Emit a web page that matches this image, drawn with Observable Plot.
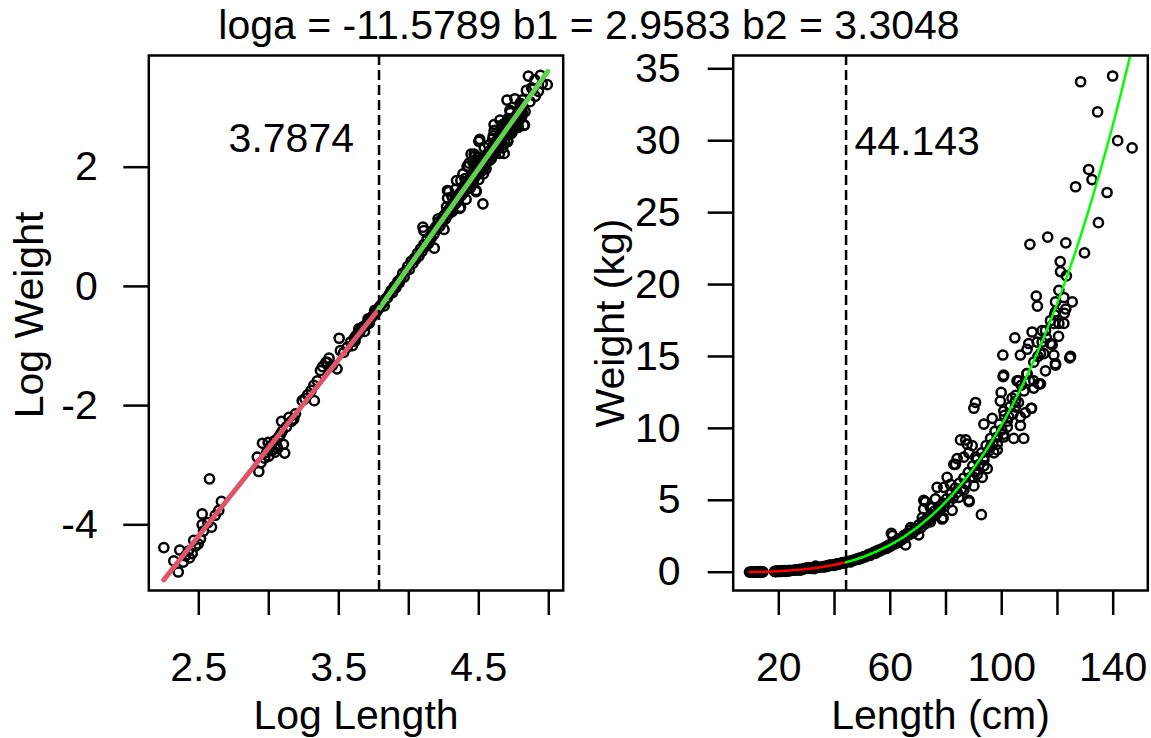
<!DOCTYPE html>
<html>
<head>
<meta charset="utf-8">
<script src="https://cdn.jsdelivr.net/npm/d3@7"></script>
<script src="https://cdn.jsdelivr.net/npm/@observablehq/plot@0.6"></script>
<style>
  html, body { margin: 0; padding: 0; background: #fff; }
  #wrap { position: relative; width: 1151px; height: 738px; overflow: hidden; background: #fff;
          font-family: "Liberation Sans", Arial, sans-serif; }
  #title { position: absolute; left: 0; top: 5px; width: 1178px; text-align: center;
           font-size: 41px; line-height: 41px; color: #000; white-space: nowrap; }
  #wrap svg { position: absolute; top: 0; }
  #wrap svg g[aria-label$="tick"], #wrap svg g[aria-label$="tick"] path { stroke-width: 2.5px; }
</style>
</head>
<body>
<div id="wrap">
  <div id="title"></div>
</div>
<script>
// ---------------- data (length in cm, weight in kg) ----------------
const titleText = "loga = -11.5789 b1 = 2.9583 b2 = 3.3048";
const breakLogLabel = "3.7874";
const breakLengthLabel = "44.143";
const breakLog = 3.7874;
const breakLength = 44.143;

const smallFish = [
  [9.49,0.0125],[10.19,0.0100],[10.52,0.0083],[10.63,0.0120],[10.9,0.0098],[11.08,0.0109],
  [11.3,0.0118],[11.4,0.0105],[11.62,0.0113],[11.75,0.0141],[11.9,0.0128],[12.13,0.0133],
  [12.33,0.0145],[12.48,0.0220],[12.48,0.0184],[12.6,0.0165],[13.0,0.0190],[13.15,0.0396],
  [13.34,0.0176],[13.7,0.0215],[14.05,0.0233],[14.32,0.0271]
];
const juvenileFish = [
  [18.5,0.057],[18.7,0.0448],[19.0,0.052],[19.2,0.072],[19.5,0.056],[19.8,0.062],[20.0,0.073],
  [20.1,0.058],[20.3,0.068],[20.6,0.064],[20.9,0.075],[21.0,0.062],[21.2,0.070],[21.4,0.066],
  [21.5,0.079],[21.8,0.083],[22.0,0.104],[22.1,0.088],[22.3,0.0707],[22.5,0.061],[22.8,0.095],
  [23.2,0.111],[23.6,0.104],[24.0,0.108],[24.3,0.118]
];
const midFish = [
  [25.5,0.147],[26.0,0.152],[26.5,0.162],[27.2,0.175],[27.7,0.190],[27.8,0.147],[28.4,0.205],
  [29.05,0.244],[29.5,0.26],[30.2,0.28],[30.5,0.280],[30.9,0.30],[31.6,0.265],[32.7,0.251],
  [33.2,0.419],[33.5,0.341],[34.3,0.33],[35.2,0.361],[36.0,0.392],[36.5,0.37],[37.0,0.42],
  [37.2,0.40],[37.5,0.44],[38.0,0.45],[38.2,0.49],[38.5,0.47],[39.0,0.50],[39.5,0.51],
  [39.8,0.47],[40.0,0.52],[40.5,0.53],[40.8,0.58],[41.0,0.56],[41.2,0.54],[41.5,0.58],
  [42.0,0.60],[42.5,0.62],[42.8,0.67],[43.0,0.64],[43.5,0.66],[44.0,0.69],[44.5,0.72]
];
const bandFish = [
  [45.2,0.75],[45.8,0.72],[46.3,0.81],[46.9,0.83],[47.5,0.88],[48.1,0.93],[48.6,0.90],[49.2,1.00],
  [49.8,0.98],[50.5,1.09],[51.0,1.06],[51.6,1.14],[52.3,1.25],[52.8,1.17],[53.5,1.30],[54.2,1.40],
  [54.8,1.33],[55.5,1.52],[56.2,1.47],[56.8,1.60],[57.4,1.58],[58.1,1.74],[58.7,1.66],[59.4,1.88],
  [60.0,1.80],[60.8,2.02],[61.5,1.95],[62.2,2.20],[62.8,2.05],[63.5,2.32],[64.1,2.25],[64.8,2.55],
  [65.4,2.40],[66.1,2.70],[66.8,2.62],[67.5,2.95],[68.2,2.75],[68.9,3.05],[69.6,2.98],[70.3,3.30],
  [71.0,3.10],[71.7,3.50],[72.4,3.35],[73.1,3.70],[73.8,3.60],[74.5,4.00],[75.2,3.85],[75.9,4.25],
  [76.6,4.05],[77.3,4.55],[78.0,4.35],[78.8,4.80],[79.5,4.60],[80.2,5.10],[81.0,4.85],[81.8,5.45],
  [82.5,5.15],[83.3,5.85],[84.0,5.55],[84.8,6.20],[85.6,5.80],[86.4,6.55],[87.2,6.15],[88.0,6.95],
  [88.8,6.60],[89.6,7.40],[90.4,7.00],[91.2,7.85],[92.0,7.50],[92.8,8.30],[93.6,8.00],[94.4,8.80],
  [95.2,8.40],[96.0,9.30],[96.8,8.90],[97.6,9.80],[98.4,9.40],[99.2,10.3],[100.0,9.90],[101.0,10.9],
  [102.0,10.5],[103.0,11.5],[104.0,11.0],[105.0,12.3],[106.0,11.8],[107.0,13.0],[108.0,12.6],
  [109.0,13.8],[110.0,13.3],[111.5,14.6],[113.0,15.0],[114.5,16.0],[116.0,16.3],[117.5,17.5],[119.0,17.9]
];
const scatterFish = [
  [128.3,34.1],[139.8,34.5],[134.4,32.0],[141.6,30.0],[146.8,29.5],[131.2,28.0],[132.4,27.3],
  [126.5,26.8],[137.8,26.4],[134.7,24.3],[110.1,22.8],[116.5,23.3],[123.0,22.9],[129.7,22.2],
  [121.0,21.6],[121.1,20.9],[123.2,20.6],[120.5,19.6],[112.4,19.2],[112.8,18.5],[122.3,19.1],
  [125.3,18.8],[119.3,18.8],[123.0,18.3],[119.3,18.1],[122.5,18.0],[118.7,17.3],[120.5,17.3],
  [122.3,17.3],[115.7,16.8],[104.7,16.3],[120.4,16.4],[109.7,15.9],[112.7,16.0],[118.1,15.8],
  [100.4,15.1],[106.7,15.1],[113.9,15.2],[118.7,15.1],[124.4,14.9],[100.7,13.7],[105.5,13.3],
  [109.1,13.8],[115.7,14.0],[119.3,14.5],[111.5,12.8],[113.9,13.1],[99.8,12.5],[90.6,11.8],
  [90.0,11.4],[99.5,11.9],[100.7,11.2],[103.7,12.1],[104.9,11.5],[106.7,10.8],[108.5,11.1],
  [110.6,11.4],[104.3,9.3],[107.9,9.3],[106.7,10.2],[93.6,10.3],[96.6,10.7],[102.0,10.1],
  [100.7,9.4],[98.4,8.9],[97.2,8.3],[87.1,9.2],[89.4,8.8],[88.2,8.3],[90.6,8.0],[84.0,7.9],
  [83.4,7.5],[93.6,7.4],[94.8,7.2],[93.0,6.6],[90.0,6.6],[90.0,6.0],[80.4,6.6],[81.6,6.1],
  [79.2,5.9],[86.4,5.7],[84.6,5.2],[88.3,4.9],[92.7,4.0],[72.6,4.9],[72.0,4.4],[76.2,5.1],
  [78.0,4.5],[78.6,3.7],[82.2,4.3],[74.4,3.5],[71.5,3.8],[60.4,2.7],[65.5,1.9],[70.2,2.6],
  [67.3,3.1],[124.7,15.0],[100.5,13.6],[110.7,11.4],[119.3,14.4],[88.2,5.0],[110.9,16.7],
  [114.5,16.8],[109.1,15.5],[115.1,15.2],[117.5,15.9],[111.5,13.3],[113.3,13.1],[106.1,13.3],
  [104.9,11.9],[102.5,10.8],[100.7,9.6],[98.4,8.5],[96.0,8.7],[93.6,7.8],[91.2,6.8],[86.4,8.0],
  [87.6,8.9],[85.2,9.2],[82.8,7.5],[76.8,5.9],[72.0,5.0],[74.4,4.5],[79.0,3.78],[60.8,2.55]
];

// fitted lines
const logRedLine   = [[2.25,-4.923],[3.7874,-0.375]];
const logGreenLine = [[3.7874,-0.375],[4.993,3.609]];
const redCurve   = [[9.49,0.0073],[12,0.0146],[15,0.0282],[20,0.0661],[25,0.128],[30,0.219],[35,0.346],[40,0.514],[44.143,0.688]];
const greenCurve = [[44.143,0.688],[50,1.038],[60,1.896],[70,3.156],[80,4.906],[90,7.241],[100,10.26],[110,14.05],[120,18.74],[130,24.41],[140,31.18],[146.9,36.56]];

// ticks
const logLengthTicks = [2.5,3,3.5,4,4.5,5];
const logLengthLabels = [2.5,3.5,4.5];
const logWeightTicks = [-4,-2,0,2];
const lengthTicks = [20,40,60,80,100,120,140];
const lengthLabels = [20,60,100,140];
const weightTicks = [0,5,10,15,20,25,30,35];

// ---------------- build ----------------
const fish = [...smallFish, ...juvenileFish, ...midFish, ...bandFish, ...scatterFish]
  .map(([L, W]) => ({L, W, logL: Math.log(L), logW: Math.log(W)}));

const FONT = 41;
const style = {fontFamily: '"Liberation Sans", Arial, sans-serif', fontSize: FONT + "px",
               background: "transparent", overflow: "visible", color: "black"};
const fmt = d => String(d);
const DOT_R = 4.6, DOT_W = 2.5, LW = 2.5;

document.getElementById("title").textContent = titleText;

const left = Plot.plot({
  width: 575, height: 738,
  marginLeft: 148.3, marginRight: 12.3, marginTop: 55, marginBottom: 148,
  style,
  x: {domain: [2.1429, 5.1029]},
  y: {domain: [-5.102, 3.874]},
  marks: [
    Plot.dot(fish, {x: "logL", y: "logW", r: DOT_R, stroke: "black", strokeWidth: DOT_W, fill: "none"}),
    Plot.line(logRedLine, {x: d => d[0], y: d => d[1], stroke: "#DF536B", strokeWidth: 5}),
    Plot.line(logGreenLine, {x: d => d[0], y: d => d[1], stroke: "#61D04F", strokeWidth: 5}),
    Plot.ruleX([breakLog], {stroke: "black", strokeWidth: LW, strokeDasharray: "10,5"}),
    Plot.text([breakLogLabel], {x: breakLog, y: 2.471, text: d => d, textAnchor: "end", dx: -25,
      lineAnchor: "middle", fontSize: FONT}),
    Plot.frame({stroke: "black", strokeWidth: LW}),
    Plot.axisX(logLengthTicks, {tickSize: 25, tickFormat: () => "", strokeWidth: LW, label: null}),
    Plot.axisX(logLengthLabels, {tickSize: 0, tickPadding: 60.9, tickFormat: fmt, fontSize: FONT, label: null}),
    Plot.axisY(logWeightTicks, {tickSize: 25, tickPadding: 26, tickFormat: fmt, fontSize: FONT,
      strokeWidth: LW, label: null}),
    Plot.text(["Log Length"], {frameAnchor: "bottom", dy: 124.9, text: d => d, textAnchor: "middle",
      lineAnchor: "middle", fontSize: FONT}),
    Plot.text(["Log Weight"], {frameAnchor: "left", dx: -119.4, dy: -8, rotate: -90, text: d => d,
      textAnchor: "middle", lineAnchor: "middle", fontSize: FONT})
  ]
});

const right = Plot.plot({
  width: 576, height: 738,
  marginLeft: 157.7, marginRight: 3.7, marginTop: 55, marginBottom: 148,
  style,
  x: {domain: [3.636, 152.42]},
  y: {domain: [-1.272, 35.925]},
  marks: [
    Plot.dot(fish, {x: "L", y: "W", r: DOT_R, stroke: "black", strokeWidth: DOT_W, fill: "none"}),
    Plot.line(redCurve, {x: d => d[0], y: d => d[1], stroke: "#FF0000", strokeWidth: 2.5, curve: "natural"}),
    Plot.line(greenCurve, {x: d => d[0], y: d => d[1], stroke: "#00FF00", strokeWidth: 2.5, curve: "natural", clip: true}),
    Plot.ruleX([breakLength], {stroke: "black", strokeWidth: LW, strokeDasharray: "10,5"}),
    Plot.text([breakLengthLabel], {x: breakLength, y: 29.89, text: d => d, textAnchor: "start", dx: 8.4,
      lineAnchor: "middle", fontSize: FONT}),
    Plot.frame({stroke: "black", strokeWidth: LW}),
    Plot.axisX(lengthTicks, {tickSize: 25, tickFormat: () => "", strokeWidth: LW, label: null}),
    Plot.axisX(lengthLabels, {tickSize: 0, tickPadding: 60.9, tickFormat: fmt, fontSize: FONT, label: null}),
    Plot.axisY(weightTicks, {tickSize: 25, tickPadding: 27.7, tickFormat: fmt, fontSize: FONT,
      strokeWidth: LW, label: null}),
    Plot.text(["Length (cm)"], {frameAnchor: "bottom", dy: 124.9, text: d => d, textAnchor: "middle",
      lineAnchor: "middle", fontSize: FONT}),
    Plot.text(["Weight (kg)"], {frameAnchor: "left", dx: -122.5, rotate: -90, text: d => d,
      textAnchor: "middle", lineAnchor: "middle", fontSize: FONT})
  ]
});

left.style.left = "0px";
right.style.left = "575px";
const wrap = document.getElementById("wrap");
wrap.appendChild(left);
wrap.appendChild(right);
</script>
</body>
</html>
